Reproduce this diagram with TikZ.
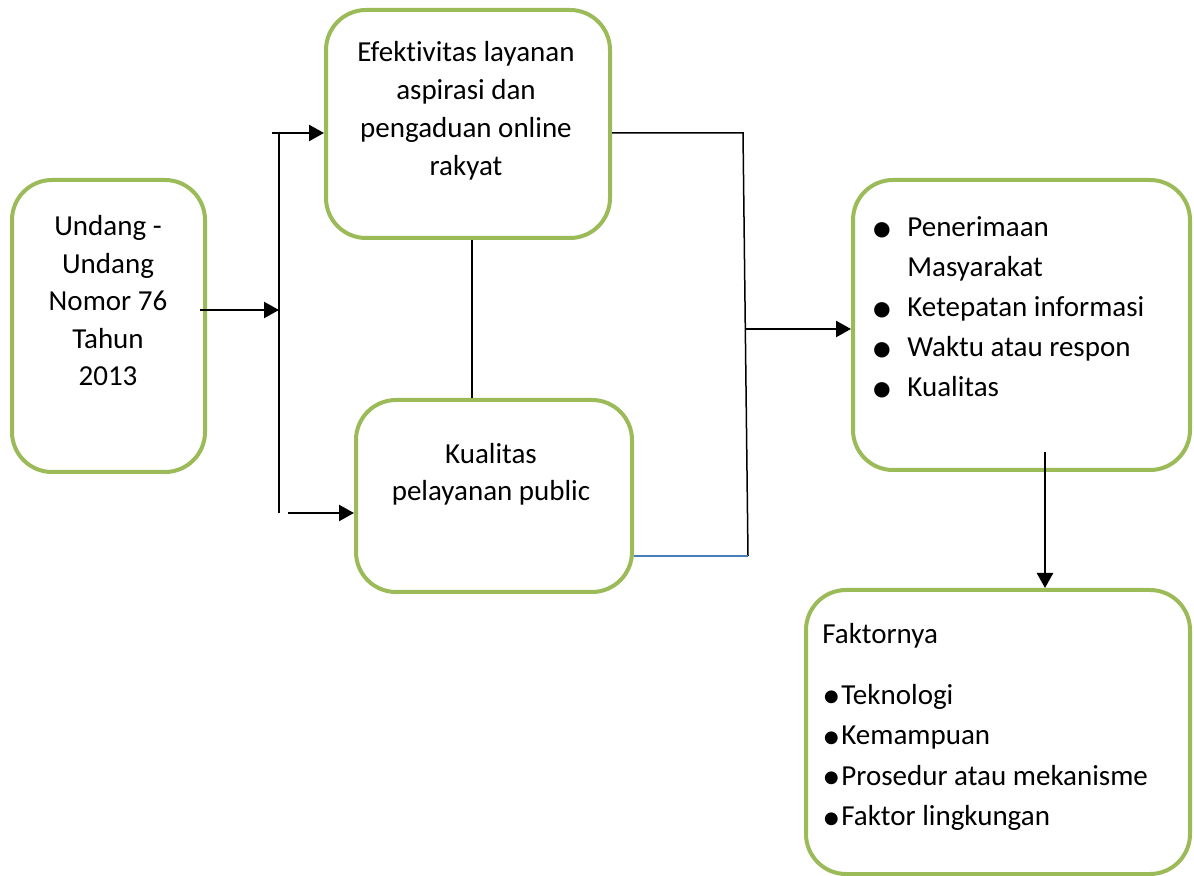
\documentclass[tikz,border=0pt]{standalone}
\usepackage{fontspec}
\setmainfont{Carlito}[RawFeature={-liga}]
\usepackage{graphicx}
\usetikzlibrary{arrows.meta}
\definecolor{boxgreen}{HTML}{9BBB59}
\definecolor{lineblue}{HTML}{4A7EBB}
\newcommand\bigbul{\raisebox{-0.2em}{\scalebox{1.5}{\textbullet}}}
\newcommand\smallbul{\raisebox{-0.12em}{\scalebox{1.25}{\textbullet}}}
\begin{document}
\begin{tikzpicture}[x=0.5pt,y=-0.5pt,
  box/.style={draw=boxgreen,line width=2pt,rounded corners=20pt,inner sep=0pt},
  txt/.style={inner sep=0pt,font=\fontsize{14.5}{19}\selectfont},
  arr/.style={line width=1.2pt,-{Triangle[length=7.5pt,width=8pt]}},
  joint/.style={line width=0.75pt},
  blueline/.style={line width=0.75pt,draw=lineblue}]
\useasboundingbox (0,0) rectangle (1194,876);
% boxes
\node[box,minimum width=96.5pt,minimum height=146pt] (A) at (108.5,326) {};
\node[box,minimum width=142pt,minimum height=114pt] (B) at (468,124) {};
\node[box,minimum width=138pt,minimum height=96pt] (C) at (494,496) {};
\node[box,minimum width=168.5pt,minimum height=145pt] (D) at (1021.5,325) {};
\node[box,minimum width=192pt,minimum height=142pt] (E) at (998,732) {};
% texts
\node[txt,anchor=north,align=center,font=\fontsize{14.5}{18.75}\selectfont] (At) at (108,215) {Undang -\\Undang\\Nomor 76\\Tahun\\2013};
\node[txt,anchor=north,align=center] (Bt) at (466,41) {Efektivitas layanan\\aspirasi dan\\pengaduan online\\rakyat};
\node[txt,anchor=north,align=center,font=\fontsize{14.5}{18.5}\selectfont] (Ct) at (491,443) {Kualitas\\pelayanan public};
\node[txt,anchor=north west,align=left,font=\fontsize{14.5}{20}\selectfont] (Dt) at (871,216) {\makebox[18pt][l]{\bigbul}Penerimaan\\\hspace*{18pt}Masyarakat\\\makebox[18pt][l]{\bigbul}Ketepatan informasi\\\makebox[18pt][l]{\bigbul}Waktu atau respon\\\makebox[18pt][l]{\bigbul}Kualitas};
\node[txt,anchor=north west,align=left,font=\fontsize{14.5}{20.25}\selectfont] (Et) at (822,623) {Faktornya\\[10pt]\makebox[9.5pt][l]{\smallbul}Teknologi\\\makebox[9.5pt][l]{\smallbul}Kemampuan\\\makebox[9.5pt][l]{\smallbul}Prosedur atau mekanisme\\\makebox[9.5pt][l]{\smallbul}Faktor lingkungan};
% left junction
\coordinate (vt) at (279,133);
\coordinate (vb) at (279,513);
\coordinate (ht) at (272,133);
\coordinate (a1) at (200,310);
\coordinate (cb) at (288,513);
\draw[joint] (vt) -- (vb);
\draw[arr] (ht) -- (ht -| B.west);
\draw[arr] (a1) -- (a1 -| vt);
\draw[arr] (cb) -- (cb -| C.west);
% B to C
\draw[joint] ([xshift=2pt]B.south) -- ([xshift=2pt]B.south |- C.north);
% right junction
\coordinate (r1) at (743,133);
\coordinate (r2) at (748,556);
\coordinate (m) at (746,329);
\draw[joint] ([yshift=-4.5pt]B.east) -- (r1) -- (r2);
\draw[blueline] (r2) -- (r2 -| C.east);
\draw[arr] (m) -- (m -| D.west);
% D to E
\coordinate (d1) at (1045,452);
\draw[arr] (d1) -- (d1 |- E.north);
\end{tikzpicture}
\end{document}
